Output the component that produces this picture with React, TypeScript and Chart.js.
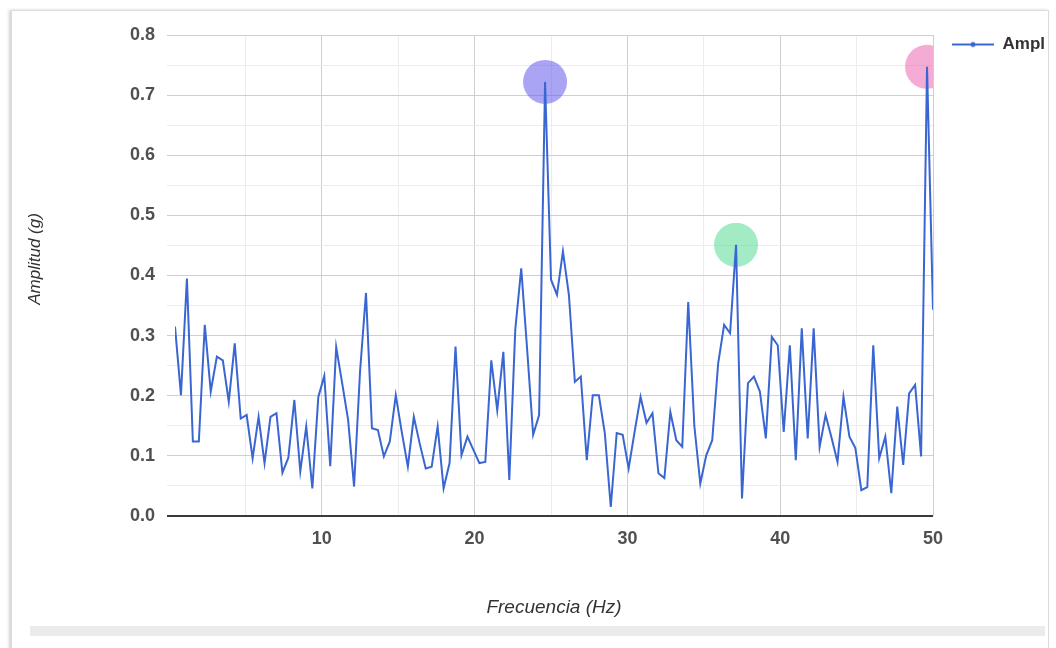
import React, { useEffect, useRef } from "react";
import { Chart, registerables } from "chart.js";

Chart.register(...registerables);

// Frequency bins (Hz)
const FREQUENCIES = [
  0.39, 0.78, 1.17, 1.56, 1.95, 2.34, 2.73, 3.13, 3.52, 3.91,
  4.3, 4.69, 5.08, 5.47, 5.86, 6.25, 6.64, 7.03, 7.42, 7.81,
  8.2, 8.59, 8.98, 9.38, 9.77, 10.16, 10.55, 10.94, 11.33, 11.72,
  12.11, 12.5, 12.89, 13.28, 13.67, 14.06, 14.45, 14.84, 15.23, 15.63,
  16.02, 16.41, 16.8, 17.19, 17.58, 17.97, 18.36, 18.75, 19.14, 19.53,
  19.92, 20.31, 20.7, 21.09, 21.48, 21.88, 22.27, 22.66, 23.05, 23.44,
  23.83, 24.22, 24.61, 25.0, 25.39, 25.78, 26.17, 26.56, 26.95, 27.34,
  27.73, 28.13, 28.52, 28.91, 29.3, 29.69, 30.08, 30.47, 30.86, 31.25,
  31.64, 32.03, 32.42, 32.81, 33.2, 33.59, 33.98, 34.38, 34.77, 35.16,
  35.55, 35.94, 36.33, 36.72, 37.11, 37.5, 37.89, 38.28, 38.67, 39.06,
  39.45, 39.84, 40.23, 40.63, 41.02, 41.41, 41.8, 42.19, 42.58, 42.97,
  43.36, 43.75, 44.14, 44.53, 44.92, 45.31, 45.7, 46.09, 46.48, 46.88,
  47.27, 47.66, 48.05, 48.44, 48.83, 49.22, 49.61, 50.0,
];

// Amplitude (g)
const AMPLITUDES = [
  0.315, 0.201, 0.395, 0.124, 0.124, 0.318, 0.207, 0.265, 0.259, 0.19,
  0.287, 0.162, 0.168, 0.096, 0.165, 0.088, 0.165, 0.171, 0.072, 0.097,
  0.193, 0.074, 0.149, 0.046, 0.198, 0.233, 0.083, 0.281, 0.221, 0.16,
  0.049, 0.24, 0.371, 0.146, 0.143, 0.099, 0.124, 0.201, 0.14, 0.082,
  0.165, 0.12, 0.079, 0.082, 0.149, 0.046, 0.088, 0.282, 0.101, 0.132,
  0.11, 0.088, 0.09, 0.259, 0.176, 0.273, 0.06, 0.31, 0.412, 0.276,
  0.135, 0.168, 0.722, 0.393, 0.368, 0.44, 0.368, 0.223, 0.232, 0.093,
  0.201, 0.201, 0.138, 0.015, 0.138, 0.135, 0.079, 0.14, 0.198, 0.155,
  0.171, 0.071, 0.063, 0.173, 0.126, 0.115, 0.356, 0.15, 0.054, 0.101,
  0.126, 0.254, 0.318, 0.304, 0.451, 0.029, 0.221, 0.232, 0.207, 0.129,
  0.298, 0.284, 0.14, 0.284, 0.093, 0.312, 0.129, 0.312, 0.115, 0.168,
  0.13, 0.09, 0.198, 0.132, 0.113, 0.043, 0.048, 0.284, 0.096, 0.132,
  0.038, 0.182, 0.085, 0.204, 0.218, 0.099, 0.747, 0.343,
];

// Highlighted peaks
const PEAK_FREQS = [24.61, 37.11, 49.61];
const PEAK_AMPLS = [0.722, 0.451, 0.747];
const PEAK_COLORS = [
  "rgba(100, 90, 235, 0.55)",
  "rgba(70, 215, 140, 0.5)",
  "rgba(235, 90, 170, 0.5)",
];

// Axes
const X_GRID = [5, 10, 15, 20, 25, 30, 35, 40, 45, 50];
const X_TICK_LABELS = [10, 20, 30, 40, 50];
const Y_TICK_LABELS = [0, 0.1, 0.2, 0.3, 0.4, 0.5, 0.6, 0.7, 0.8];

const SERIES_NAME = "Ampl";
const X_TITLE = "Frecuencia (Hz)";
const Y_TITLE = "       Amplitud (g)";

const LINE_COLOR = "#3a66d2";
const FONT = "'Liberation Sans', Arial, sans-serif";

const isMajorY = (v: number) =>
  Y_TICK_LABELS.some((t) => Math.abs(t - v) < 1e-6);

function makeLegendMarker(): HTMLCanvasElement {
  const c = document.createElement("canvas");
  c.width = 42;
  c.height = 8;
  const ctx = c.getContext("2d")!;
  ctx.strokeStyle = LINE_COLOR;
  ctx.lineWidth = 2;
  ctx.beginPath();
  ctx.moveTo(0, 4);
  ctx.lineTo(42, 4);
  ctx.stroke();
  ctx.fillStyle = LINE_COLOR;
  ctx.beginPath();
  ctx.arc(21, 4, 2.5, 0, Math.PI * 2);
  ctx.fill();
  return c;
}

const legendShift = {
  id: "legendShift",
  afterLayout(chart: any) {
    const l = chart.legend;
    if (!l) return;
    l.left += 9;
    l.right += 9;
    l.top -= 9;
    l.bottom -= 9;
  },
};

export default function App() {
  const canvasRef = useRef<HTMLCanvasElement | null>(null);

  useEffect(() => {
    if (!canvasRef.current) return;
    const marker = makeLegendMarker();
    const chart = new Chart(canvasRef.current, {
      type: "line",
      data: {
        datasets: [
          {
            label: SERIES_NAME,
            data: FREQUENCIES.map((f, i) => ({ x: f, y: AMPLITUDES[i] })),
            borderColor: LINE_COLOR,
            backgroundColor: LINE_COLOR,
            borderWidth: 2,
            pointRadius: 0,
            tension: 0,
            order: 0,
          },
          {
            type: "scatter",
            label: "peaks",
            data: PEAK_FREQS.map((f, i) => ({ x: f, y: PEAK_AMPLS[i] })),
            backgroundColor: PEAK_COLORS,
            borderWidth: 0,
            pointRadius: 22,
            pointHoverRadius: 22,
            order: 1,
          } as any,
        ],
      },
      plugins: [legendShift],
      options: {
        responsive: false,
        animation: false,
        layout: { padding: { left: 21, right: 10, top: 35, bottom: 29 } },
        plugins: {
          tooltip: { enabled: false },
          legend: {
            position: "right",
            align: "start",
            labels: {
              usePointStyle: true,
              pointStyle: marker,
              pointStyleWidth: 42,
              color: "#333",
              font: { family: FONT, size: 17, weight: "bold" },
              filter: (item: any) => item.text === SERIES_NAME,
            },
          },
        },
        scales: {
          x: {
            type: "linear",
            min: FREQUENCIES[0],
            max: 50,
            afterBuildTicks: (scale: any) => {
              scale.ticks = X_GRID.map((v) => ({ value: v }));
            },
            afterFit: (scale: any) => {
              scale.height = 103;
            },
            border: { display: false },
            grid: {
              drawTicks: false,
              color: (ctx: any) =>
                ctx.tick && X_TICK_LABELS.includes(ctx.tick.value)
                  ? "#cfcfcf"
                  : "#ececec",
            },
            ticks: {
              autoSkip: false,
              maxRotation: 0,
              padding: 12,
              color: "#505050",
              font: { family: FONT, size: 18, weight: "bold" },
              callback: (v: any) =>
                X_TICK_LABELS.includes(Number(v)) ? String(v) : "",
            },
            title: {
              display: true,
              text: X_TITLE,
              color: "#333",
              font: { family: FONT, size: 19, style: "italic" },
              padding: { top: 0, bottom: 0 },
            },
          },
          y: {
            min: 0,
            max: 0.8,
            afterFit: (scale: any) => {
              scale.width = 154;
            },
            border: { display: false },
            grid: {
              tickLength: 8,
              color: (ctx: any) => {
                const v = ctx.tick ? ctx.tick.value : 1;
                if (Math.abs(v) < 1e-6) return "#3a3a3a";
                return isMajorY(v) ? "#cfcfcf" : "#ececec";
              },
              lineWidth: (ctx: any) =>
                ctx.tick && Math.abs(ctx.tick.value) < 1e-6 ? 2 : 1,
            },
            ticks: {
              stepSize: 0.05,
              autoSkip: false,
              padding: 12,
              color: "#505050",
              font: { family: FONT, size: 18, weight: "bold" },
              callback: (v: any) =>
                isMajorY(Number(v)) ? Number(v).toFixed(1) : "",
            },
            title: {
              display: true,
              text: Y_TITLE,
              color: "#333",
              font: { family: FONT, size: 17, style: "italic" },
              padding: { top: 4, bottom: 4 },
            },
          },
        },
      } as any,
    });
    return () => chart.destroy();
  }, []);

  return (
    <div
      style={{
        position: "fixed",
        left: 0,
        top: 0,
        width: 1056,
        height: 648,
        background: "#fff",
        overflow: "hidden",
      }}
    >
      <div
        style={{
          position: "absolute",
          left: 11,
          top: 10,
          width: 1036,
          height: 650,
          border: "1px solid #dcdcdc",
          boxShadow: "-2px 0 3px rgba(0,0,0,0.18)",
        }}
      />
      <div
        style={{
          position: "absolute",
          left: 30,
          top: 626,
          width: 1015,
          height: 10,
          background: "#ebebeb",
        }}
      />
      <canvas
        ref={canvasRef}
        width={1056}
        height={648}
        style={{ position: "absolute", left: 0, top: 0 }}
      />
    </div>
  );
}
